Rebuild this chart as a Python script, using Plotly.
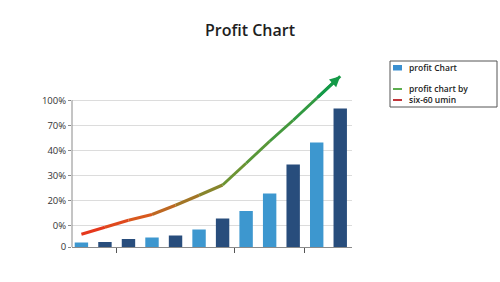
import plotly.graph_objects as go

# ---------------- data ----------------
bar_positions = [1, 2, 3, 4, 5, 6, 7, 8, 9, 10, 11, 12]
bar_values = [0.18, 0.20, 0.32, 0.38, 0.46, 0.70, 1.14, 1.44, 2.14, 3.30, 4.18, 5.54]
bar_shades = ["light", "dark", "dark", "light", "dark", "light",
              "dark", "light", "light", "dark", "light", "dark"]
line_values = [0.51, 0.79, 1.07, 1.30, 1.67, 2.07, 2.48, 3.35, 4.23, 5.07, 5.95, 6.83]
ytick_vals = [0, 0.87, 1.87, 2.87, 3.87, 4.87, 5.87]
ytick_text = ["0", "0%", "20%", "30%", "40%", "70%", "100%"]
xtick_vals = [2.5, 7.5, 10.5]
title_text = "Profit Chart"
legend_labels = ["profit Chart", "profit chart by", "six-60 umin"]

# ---------------- styles ----------------
W, H = 500, 282
L, R, T, B = 72, 352, 66, 247
shade_colors = {"light": "#3d97cf", "dark": "#284d7c"}
FONT = "Open Sans"


def px(x):
    return (x - L) / (R - L)


def py(y):
    return (B - y) / (B - T)


def lerp_color(stops, t):
    for (t0, c0), (t1, c1) in zip(stops, stops[1:]):
        if t0 <= t <= t1:
            f = (t - t0) / (t1 - t0) if t1 > t0 else 0
            c = [round(a + (b - a) * f) for a, b in zip(c0, c1)]
            return "rgb({},{},{})".format(*c)
    c = stops[-1][1]
    return "rgb({},{},{})".format(*c)


grad_stops = [
    (0.0, (232, 48, 28)),
    (0.22, (218, 88, 30)),
    (0.45, (150, 125, 40)),
    (0.6, (105, 150, 52)),
    (1.0, (20, 154, 72)),
]

fig = go.Figure()

fig.add_trace(go.Bar(
    x=bar_positions, y=bar_values, width=0.57,
    marker=dict(color=[shade_colors[s] for s in bar_shades], line=dict(width=0)),
    showlegend=False, hoverinfo="skip",
))

n = len(line_values)
for i in range(n - 1):
    t = (i + 0.5) / (n - 1)
    fig.add_trace(go.Scatter(
        x=bar_positions[i:i + 2], y=line_values[i:i + 2], mode="lines",
        line=dict(color=lerp_color(grad_stops, t), width=3),
        showlegend=False, hoverinfo="skip",
    ))

# arrow head at the end of the line
fig.add_annotation(
    x=bar_positions[-1], y=line_values[-1],
    ax=bar_positions[-2], ay=line_values[-2],
    xref="x", yref="y", axref="x", ayref="y",
    showarrow=True, arrowhead=2, arrowsize=0.7, arrowwidth=3,
    arrowcolor=lerp_color(grad_stops, 1.0), text="", standoff=0,
)

shapes = []
# y axis line (from baseline up to top gridline)
shapes.append(dict(type="line", xref="x domain", yref="y", x0=0, x1=0,
                   y0=ytick_vals[0], y1=ytick_vals[-1],
                   line=dict(color="#8a8a8a", width=1)))

# legend box
shapes.append(dict(type="rect", xref="paper", yref="paper",
                   x0=px(390), x1=px(497), y0=py(61), y1=py(107),
                   line=dict(color="#555555", width=1), fillcolor="white"))
shapes.append(dict(type="rect", xref="paper", yref="paper",
                   x0=px(393), x1=px(402), y0=py(65), y1=py(70.5),
                   line=dict(width=0), fillcolor="#3a8fd0"))
shapes.append(dict(type="line", xref="paper", yref="paper",
                   x0=px(393), x1=px(402), y0=py(89), y1=py(89),
                   line=dict(color="#5cad4e", width=2)))
shapes.append(dict(type="line", xref="paper", yref="paper",
                   x0=px(393), x1=px(402), y0=py(100), y1=py(100),
                   line=dict(color="#c0343a", width=2)))

for label, yy in zip(legend_labels, [67.5, 88.5, 99.5]):
    fig.add_annotation(x=px(407), y=py(yy), xref="paper", yref="paper",
                       text=label, showarrow=False, xanchor="left", yanchor="middle",
                       font=dict(family=FONT, size=8.5, color="#222222", weight=600))

fig.update_layout(
    width=W, height=H,
    margin=dict(l=L, r=W - R, t=T, b=H - B, pad=0),
    paper_bgcolor="white", plot_bgcolor="white",
    title=dict(text=title_text, x=0.5, xref="container", xanchor="center",
               y=1 - 30 / H, yref="container", yanchor="middle",
               font=dict(family=FONT, size=16, color="#1e1e1e", weight=600)),
    shapes=shapes,
    showlegend=False,
    bargap=0.4,
)

fig.update_xaxes(
    range=[0.6, 12.5], showgrid=False, zeroline=False,
    showline=True, linecolor="#8a8a8a", linewidth=1,
    tickmode="array", tickvals=xtick_vals, ticktext=["", "", ""],
    ticks="outside", ticklen=5, tickcolor="#555555", tickwidth=1,
)
fig.update_yaxes(
    range=[0, (B - T) / 25.0], showgrid=True, gridcolor="#dcdcdc", gridwidth=1,
    zeroline=False, showline=False,
    tickmode="array", tickvals=ytick_vals, ticktext=ytick_text,
    ticks="outside", ticklen=3, tickcolor="#8a8a8a",
    tickfont=dict(family=FONT, size=9.5, color="#333333"),
)

fig.write_html("out.html")
